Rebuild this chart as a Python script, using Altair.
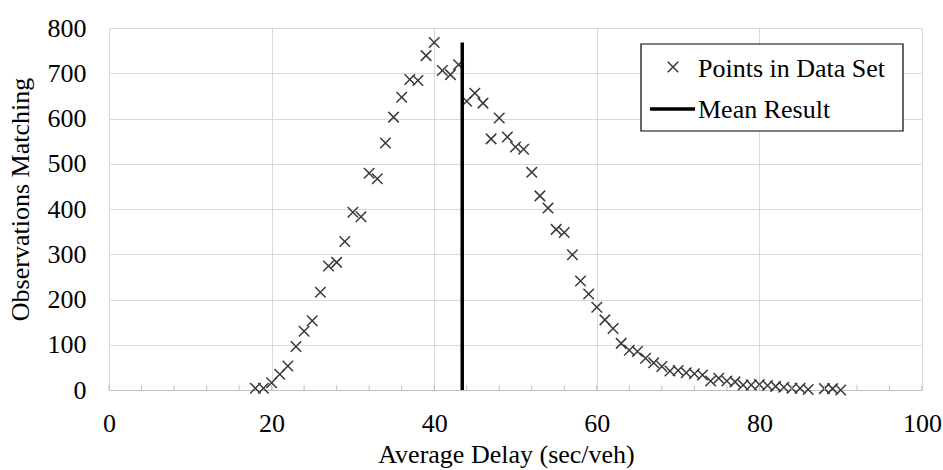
import altair as alt
import pandas as pd

# ---- data ----
delay = [18, 19, 20, 21, 22, 23, 24, 25, 26, 27, 28, 29, 30, 31, 32, 33, 34, 35,
         36, 37, 38, 39, 40, 41, 42, 43, 44, 45, 46, 47, 48, 49, 50, 51, 52, 53,
         54, 55, 56, 57, 58, 59, 60, 61, 62, 63, 64, 65, 66, 67, 68, 69, 70, 71,
         72, 73, 74, 75, 76, 77, 78, 79, 80, 81, 82, 83, 84, 85, 86, 88, 89, 90]
observations = [4, 4, 16, 35, 53, 96, 130, 153, 216, 274, 282, 328, 393, 383, 479, 467, 546, 603,
                647, 686, 684, 739, 768, 706, 697, 719, 638, 656, 634, 555, 601, 559, 537, 532, 481, 429,
                402, 355, 348, 299, 241, 212, 183, 155, 136, 103, 88, 85, 70, 60, 52, 42, 43, 38,
                36, 33, 20, 26, 20, 18, 11, 11, 12, 10, 8, 6, 4, 4, 1, 3, 3, 0]
mean_delay = [43.45]
mean_top = [768]
mean_bottom = [0]
x_ticks = [0, 20, 40, 60, 80, 100]
x_minor_ticks = [0, 4, 8, 12, 16, 20, 24, 28, 32, 36, 40, 44, 48, 52, 56, 60, 64, 68,
                 72, 76, 80, 84, 88, 92, 96, 100]
y_ticks = [0, 100, 200, 300, 400, 500, 600, 700, 800]
legend_labels = ["Points in Data Set", "Mean Result"]

W, H = 813, 362
FONT = "Liberation Serif"
FS = 26
XPATH = "M-1,-1L1,1M1,-1L-1,1"

xscale = alt.Scale(domain=[0, 100], nice=False, zero=False)
yscale = alt.Scale(domain=[0, 800], nice=False)

x_axis = alt.Axis(values=x_ticks, title="Average Delay (sec/veh)", grid=True,
                  gridColor="#d9d9d9", domain=True, domainColor="#bfbfbf",
                  ticks=False, labelPadding=20, labelFont=FONT, labelFontSize=FS,
                  labelColor="black", titleFont=FONT, titleFontSize=FS,
                  titleFontWeight="normal", titleColor="black",
                  titleX=397, titleY=72, titleBaseline="alphabetic",
                  titleAlign="center", labelFlush=False)
y_axis = alt.Axis(values=y_ticks, title="Observations Matching", grid=True,
                  gridColor="#d9d9d9", domain=False, ticks=False,
                  labelPadding=23, labelFont=FONT, labelFontSize=FS,
                  labelColor="black", titleFont=FONT, titleFontSize=FS,
                  titleFontWeight="normal", titleColor="black",
                  titleAngle=270, titleX=-89, titleY=171,
                  titleBaseline="middle", titleAlign="center", labelFlush=False)

pts_df = pd.DataFrame({"delay": delay, "obs": observations})
mean_df = pd.DataFrame({"x": mean_delay, "top": mean_top, "bottom": mean_bottom})
minor_df = pd.DataFrame({"t": x_minor_ticks})

points = alt.Chart(pts_df).mark_point(
    shape=XPATH, filled=False, size=110, color="#3a3a3a", strokeWidth=1.5, opacity=1
).encode(
    x=alt.X("delay:Q", scale=xscale, axis=x_axis),
    y=alt.Y("obs:Q", scale=yscale, axis=y_axis),
)

minor = alt.Chart(minor_df).mark_rule(color="#bfbfbf", strokeWidth=1).encode(
    x=alt.X("t:Q", scale=xscale, axis=x_axis),
    y=alt.value(H),
    y2=alt.value(H - 5),
)

mean_rule = alt.Chart(mean_df).mark_rule(color="black", strokeWidth=3.5).encode(
    x=alt.X("x:Q", scale=xscale, axis=x_axis),
    y=alt.Y("top:Q", scale=yscale, axis=y_axis),
    y2="bottom:Q",
)

leg_df1 = pd.DataFrame({"label": [legend_labels[0]]})
leg_df2 = pd.DataFrame({"label": [legend_labels[1]]})

leg_box = alt.Chart(leg_df1).mark_rect(fill="white", stroke="black", strokeWidth=1.2).encode(
    x=alt.value(532), x2=alt.value(794), y=alt.value(16), y2=alt.value(103)
)
leg_x = alt.Chart(leg_df1).mark_point(
    shape=XPATH, filled=False, size=110, color="#3a3a3a", strokeWidth=1.5, opacity=1
).encode(x=alt.value(564), y=alt.value(39))
leg_line = alt.Chart(leg_df2).mark_rule(color="black", strokeWidth=3.5).encode(
    x=alt.value(541), x2=alt.value(586), y=alt.value(81)
)
leg_t1 = alt.Chart(leg_df1).mark_text(
    align="left", baseline="alphabetic", font=FONT, fontSize=FS, color="black"
).encode(x=alt.value(589), y=alt.value(49), text="label:N")
leg_t2 = alt.Chart(leg_df2).mark_text(
    align="left", baseline="alphabetic", font=FONT, fontSize=FS, color="black"
).encode(x=alt.value(589), y=alt.value(90), text="label:N")

chart = alt.layer(
    points, minor, mean_rule, leg_box, leg_x, leg_line, leg_t1, leg_t2
).properties(
    width=W, height=H,
    autosize=alt.AutoSizeParams(type="none"),
    padding={"left": 109, "top": 28, "right": 21, "bottom": 80},
    background="white",
).configure_view(stroke=None)

chart.save("out.html", embed_options={"renderer": "svg", "actions": False})
